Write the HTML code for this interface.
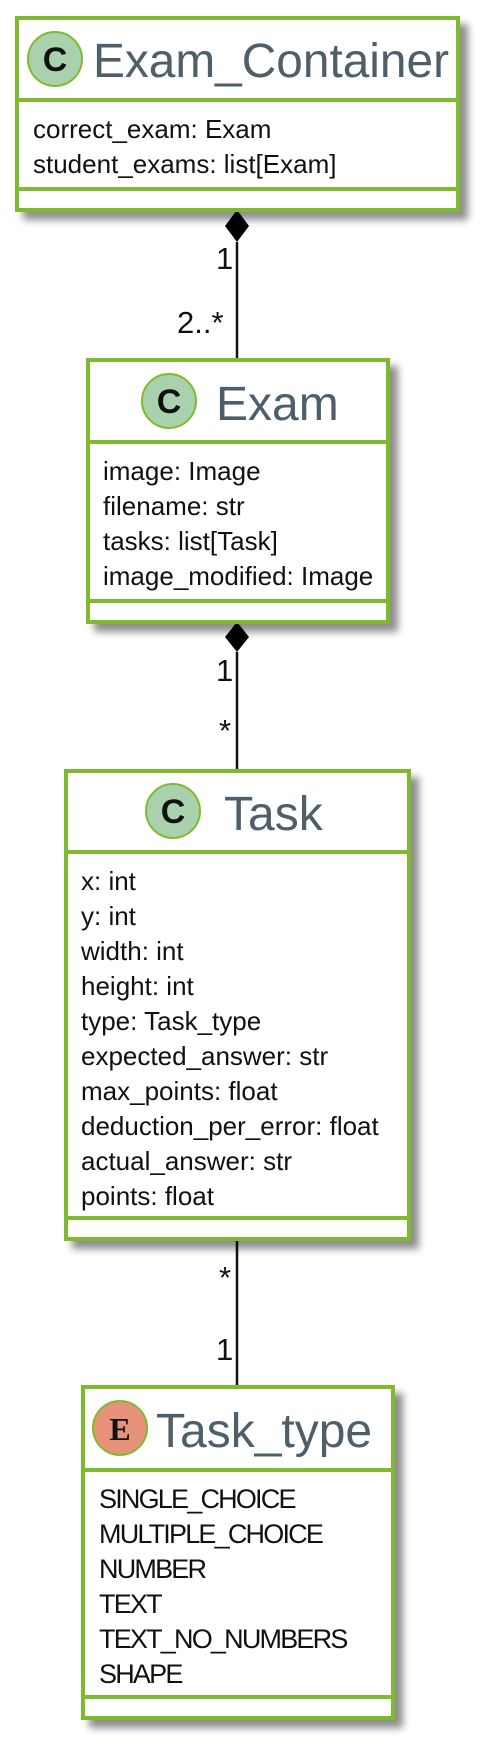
<!DOCTYPE html>
<html><head><meta charset="utf-8"><style>
html,body{margin:0;padding:0;background:#fff;width:493px;height:1748px;overflow:hidden}
svg{display:block}
.t{font-family:"Liberation Sans",sans-serif;font-size:48px;fill:#4e5f6a}
.a{font-family:"Liberation Sans",sans-serif;font-size:26px;fill:#111}
.e{font-family:"Liberation Sans",sans-serif;font-size:27px;fill:#111;letter-spacing:-1.8px}
.m{font-family:"Liberation Sans",sans-serif;font-size:31px;fill:#111}
.b{fill:#fff;stroke:#7fba2f;stroke-width:4}
.s{stroke:#7fba2f;stroke-width:4}
.c{font-family:"Liberation Sans",sans-serif;font-weight:bold;font-size:34px;fill:#111}
</style></head><body>
<svg width="493" height="1748" xmlns="http://www.w3.org/2000/svg">
<defs><filter id="sh" x="-10%" y="-10%" width="130%" height="130%"><feGaussianBlur in="SourceAlpha" stdDeviation="4"/><feOffset dx="8" dy="8"/><feComponentTransfer><feFuncA type="linear" slope="0.45"/></feComponentTransfer><feMerge><feMergeNode/><feMergeNode in="SourceGraphic"/></feMerge></filter></defs>

<g stroke="#111" stroke-width="2.5">
<line x1="237" y1="242" x2="237" y2="359"/>
<line x1="237" y1="652" x2="237" y2="771"/>
<line x1="237" y1="1239" x2="237" y2="1387"/>
</g>
<polygon points="237,210 249,226 237,242 225,226" fill="#000"/>
<polygon points="237,622 249,637 237,652 225,637" fill="#000"/>
<text class="m" x="216" y="269">1</text>
<text class="m" x="177" y="333">2..*</text>
<text class="m" x="216" y="681">1</text>
<text class="m" x="219" y="741">*</text>
<text class="m" x="219" y="1288">*</text>
<text class="m" x="216" y="1360">1</text>

<g filter="url(#sh)"><rect class="b" x="17" y="18" width="441" height="192"/></g>
<line class="s" x1="17" y1="100" x2="458" y2="100"/>
<line class="s" x1="17" y1="189" x2="458" y2="189"/>
<circle cx="55" cy="59" r="27" fill="#aad1ae" stroke="#7fba2f" stroke-width="2"/>
<text class="c" x="55" y="71" text-anchor="middle">C</text>
<text class="t" x="93" y="77" textLength="356" lengthAdjust="spacingAndGlyphs">Exam_Container</text>
<text class="a" x="33" y="138">correct_exam: Exam</text>
<text class="a" x="33" y="173">student_exams: list[Exam]</text>

<g filter="url(#sh)"><rect class="b" x="88" y="360" width="300" height="262"/></g>
<line class="s" x1="88" y1="442" x2="388" y2="442"/>
<line class="s" x1="88" y1="601" x2="388" y2="601"/>
<circle cx="169" cy="401" r="27" fill="#aad1ae" stroke="#7fba2f" stroke-width="2"/>
<text class="c" x="169" y="413" text-anchor="middle">C</text>
<text class="t" x="216" y="420">Exam</text>
<text class="a" x="103" y="480">image: Image</text>
<text class="a" x="103" y="515">filename: str</text>
<text class="a" x="103" y="550">tasks: list[Task]</text>
<text class="a" x="103" y="585">image_modified: Image</text>

<g filter="url(#sh)"><rect class="b" x="66" y="771" width="343" height="468"/></g>
<line class="s" x1="66" y1="852" x2="409" y2="852"/>
<line class="s" x1="66" y1="1218" x2="409" y2="1218"/>
<circle cx="173" cy="811" r="27" fill="#aad1ae" stroke="#7fba2f" stroke-width="2"/>
<text class="c" x="173" y="823" text-anchor="middle">C</text>
<text class="t" x="224" y="830">Task</text>
<text class="a" x="81" y="890">x: int</text>
<text class="a" x="81" y="925">y: int</text>
<text class="a" x="81" y="960">width: int</text>
<text class="a" x="81" y="995">height: int</text>
<text class="a" x="81" y="1030">type: Task_type</text>
<text class="a" x="81" y="1065">expected_answer: str</text>
<text class="a" x="81" y="1100">max_points: float</text>
<text class="a" x="81" y="1135">deduction_per_error: float</text>
<text class="a" x="81" y="1170">actual_answer: str</text>
<text class="a" x="81" y="1205">points: float</text>

<g filter="url(#sh)"><rect class="b" x="83" y="1387" width="310" height="331"/></g>
<line class="s" x1="83" y1="1470" x2="393" y2="1470"/>
<line class="s" x1="83" y1="1697" x2="393" y2="1697"/>
<circle cx="120" cy="1428" r="27" fill="#e8917b" stroke="#7fba2f" stroke-width="2"/>
<text x="120" y="1440" text-anchor="middle" style="font-family:'Liberation Serif',serif;font-weight:bold;font-size:32px;fill:#111">E</text>
<text class="t" x="156" y="1447">Task_type</text>
<text class="e" x="99" y="1508">SINGLE_CHOICE</text>
<text class="e" x="99" y="1543">MULTIPLE_CHOICE</text>
<text class="e" x="99" y="1578">NUMBER</text>
<text class="e" x="99" y="1613">TEXT</text>
<text class="e" x="99" y="1648">TEXT_NO_NUMBERS</text>
<text class="e" x="99" y="1683">SHAPE</text>
</svg>
</body></html>
